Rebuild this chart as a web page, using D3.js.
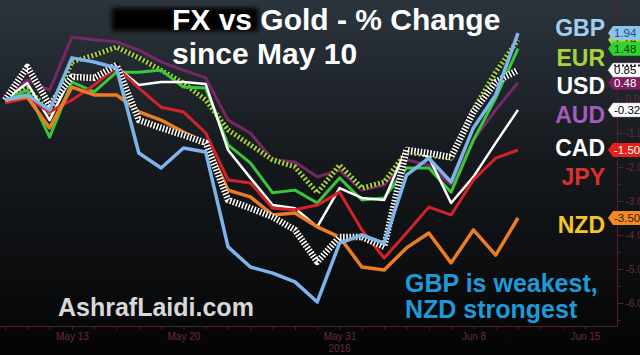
<!DOCTYPE html>
<html>
<head>
<meta charset="utf-8">
<script src="https://cdn.jsdelivr.net/npm/d3@7"></script>
<style>
  body { margin: 0; background: #000; }
  svg { display: block; font-family: 'Liberation Sans', Arial, sans-serif; }
</style>
</head>
<body>
<div class="canvas"></div>
<script>
// trading days on the x axis (data runs to Jun 10, axis to Jun 15)
const days = ['May 10', 'May 11', 'May 12', 'May 13', 'May 16', 'May 17', 'May 18', 'May 19', 'May 20',
  'May 23', 'May 24', 'May 25', 'May 26', 'May 27', 'May 30', 'May 31',
  'Jun 1', 'Jun 2', 'Jun 3', 'Jun 6', 'Jun 7', 'Jun 8', 'Jun 9', 'Jun 10', 'Jun 13', 'Jun 14', 'Jun 15']
const xLabels = ['May 13', 'May 20', 'May 31', 'Jun 8', 'Jun 15']
const yTicks = [-6, -5, -4, -3, -2, -1, 0, 1, 2]

// % change vs gold, one value per trading day
const gbp = [-0.03, 0.12, -0.32, 1.21, 1.09, 0.91, -1.59, -2.03, -1.44, -1.56, -4.35, -4.94, -5.12, -5.38, -5.97, -4.24, -4.00, -4.24, -2.24, -1.74, -2.44, -0.85, 0.12, 1.94]
const eur = [0.03, 0.32, -0.38, 1.09, 1.29, 1.53, 1.21, 0.85, 0.47, -0.03, -0.91, -1.35, -1.79, -2.00, -2.76, -1.94, -2.62, -2.44, -1.56, -1.65, -1.74, -0.32, 0.79, 1.74]
const green = [-0.03, 0.26, -1.12, 0.50, 0.21, 0.79, 0.79, 0.85, 0.35, 0.32, -1.35, -1.88, -2.76, -2.68, -3.06, -2.32, -2.97, -2.91, -2.03, -2.03, -2.74, -1.21, 0.03, 1.48]
const usd = [-0.03, 0.47, -0.62, 0.71, 0.62, 0.94, 0.41, 0.50, 0.50, 0.44, -1.50, -2.32, -3.12, -3.21, -3.76, -2.62, -2.91, -2.97, -1.44, -1.71, -3.06, -2.29, -1.29, -0.32]
const aud = [0.03, 0.56, 0.26, 1.82, 1.74, 1.68, 1.44, 1.09, 0.85, 0.62, -0.62, -1.00, -1.79, -1.85, -2.29, -2.09, -2.68, -2.53, -1.79, -1.94, -2.53, -1.21, -0.32, 0.48]
const cad = [-0.03, 0.94, -0.18, 0.65, 0.62, 1.00, -0.62, -0.85, -1.06, -1.29, -2.97, -3.21, -3.47, -3.85, -4.79, -4.06, -4.06, -4.35, -1.50, -1.59, -1.71, -0.38, 0.50, 0.85]
const jpy = [-0.12, 0.03, -0.38, -0.03, 0.41, 0.94, 0.32, -0.24, -0.38, -1.00, -2.38, -2.47, -3.21, -3.26, -3.12, -2.74, -3.85, -4.68, -3.94, -3.18, -3.41, -2.38, -1.74, -1.50]
const nzd = [-0.03, 0.06, -0.85, 0.35, 0.12, 0.12, -0.38, -0.62, -0.97, -1.29, -2.68, -2.88, -3.41, -3.35, -3.76, -4.06, -4.94, -5.03, -4.38, -3.94, -4.82, -3.85, -4.59, -3.50]

const legendNames = ['GBP', 'EUR', 'USD', 'AUD', 'CAD', 'JPY', 'NZD']
const legendColours = ['#9fd0f0', '#a8d23a', '#ffffff', '#a45cc0', '#ffffff', '#d93030', '#f3c623']

// line styles, drawn in this order
const series = [
  { values: aud, colour: '#762866', width: 3, tag: '#7b1d5e', tagText: '#fff' },
  { values: eur, colour: '#a6d03a', width: 5, dash: '2,2', under: '#10140c', tag: '#a5cf3c', tagText: '#274400' },
  { values: green, colour: '#38c838', width: 3, tag: '#2fd42f', tagText: '#0a3a0a' },
  { values: usd, colour: '#ffffff', width: 2.5, tag: '#ffffff', tagText: '#000' },
  { values: jpy, colour: '#d2232a', width: 3, tag: '#e8201c', tagText: '#fff' },
  { values: nzd, colour: '#ec7d22', width: 3.5, tag: '#f08a24', tagText: '#3a1800' },
  { values: cad, colour: '#ffffff', width: 6.5, dash: '1.6,1.6', under: '#0c0c0c', tag: '#ffffff', tagText: '#000' },
  { values: gbp, colour: '#7db5ea', width: 3.5, tag: '#8ec3ea', tagText: '#1c4a7a' },
]

const dims = { width: 640, height: 355, right: 617.5, bottom: 326.5 }

const svg = d3.select('.canvas')
  .append('svg')
  .attr('width', dims.width)
  .attr('height', dims.height)

const defs = svg.append('defs')
const grad = defs.append('linearGradient')
  .attr('id', 'bg').attr('x1', 0).attr('y1', 0).attr('x2', 0).attr('y2', 1)
grad.append('stop').attr('offset', '0%').attr('stop-color', '#2c343d')
grad.append('stop').attr('offset', '45%').attr('stop-color', '#15191d')
grad.append('stop').attr('offset', '100%').attr('stop-color', '#040404')

defs.append('filter').attr('id', 'blur')
  .attr('x', '-20%').attr('y', '-40%').attr('width', '140%').attr('height', '180%')
  .append('feGaussianBlur').attr('stdDeviation', 2.5)

svg.append('rect')
  .attr('width', dims.width).attr('height', dims.height)
  .attr('fill', 'url(#bg)')

const x = d3.scaleLinear().domain([0, 23]).range([5, 518])
const y = d3.scaleLinear().domain([-6, 2]).range([303, 31])

const axisColour = '#5a1e32'
const labelColour = '#6a2a3e'

// frame lines
svg.append('line')
  .attr('x1', 0).attr('x2', dims.right)
  .attr('y1', dims.bottom).attr('y2', dims.bottom)
  .attr('stroke', axisColour)
svg.append('line')
  .attr('x1', dims.right).attr('x2', dims.right)
  .attr('y1', 0).attr('y2', dims.bottom)
  .attr('stroke', axisColour)

// x axis: a tick every trading day, labels on a few
const xMinor = svg.append('g')
  .attr('transform', `translate(0, ${dims.bottom})`)
  .call(d3.axisBottom(x).tickValues(d3.range(days.length)).tickSize(3).tickFormat(''))
const xMajor = svg.append('g')
  .attr('transform', `translate(0, ${dims.bottom})`)
  .call(d3.axisBottom(x).tickValues(xLabels.map(l => days.indexOf(l))).tickSize(0).tickPadding(6)
    .tickFormat(i => days[i]))

// y axis on the right
const yMinor = svg.append('g')
  .attr('transform', `translate(${dims.right}, 0)`)
  .call(d3.axisRight(y).tickValues(d3.range(-6.5, 2.5, 0.5)).tickSize(3).tickFormat(''))
const yMajor = svg.append('g')
  .attr('transform', `translate(${dims.right}, 0)`)
  .call(d3.axisRight(y).tickValues(yTicks).tickSize(6).tickPadding(2).tickFormat(d => d.toFixed(2)))

;[xMinor, xMajor, yMinor, yMajor].forEach(g => {
  g.select('.domain').remove()
  g.selectAll('line').attr('stroke', axisColour)
  g.selectAll('text').attr('fill', labelColour).attr('font-size', 10)
    .attr('font-family', 'Liberation Sans, Arial, sans-serif')
})

svg.append('text')
  .attr('x', x(days.indexOf('May 31'))).attr('y', 352)
  .attr('text-anchor', 'middle')
  .attr('fill', labelColour).attr('font-size', 10)
  .text('2016')

// lines
const line = d3.line()
  .x((d, i) => x(i))
  .y(d => y(d))

const graph = svg.append('g')

series.forEach(s => {
  if (s.under) {
    graph.append('path')
      .attr('d', line(s.values))
      .attr('fill', 'none')
      .attr('stroke', s.under)
      .attr('stroke-width', s.width - 1.5)
      .attr('stroke-linejoin', 'round')
  }
  graph.append('path')
    .attr('d', line(s.values))
    .attr('fill', 'none')
    .attr('stroke', s.colour)
    .attr('stroke-width', s.width)
    .attr('stroke-dasharray', s.dash || null)
    .attr('stroke-linejoin', 'round')
})

// last value tags on the right axis
const tags = svg.append('g')
series.forEach(s => {
  const v = s.values[s.values.length - 1]
  const ty = y(v)
  tags.append('path')
    .attr('d', `M608,${ty} L613,${ty - 7} L660,${ty - 7} L660,${ty + 7} L613,${ty + 7} Z`)
    .attr('fill', s.tag)
    .attr('stroke', s.tag === '#ffffff' ? '#999' : 'none')
    .attr('stroke-width', 0.5)
  if (s.dash && s.colour === '#ffffff') {
    tags.append('line')
      .attr('x1', 614).attr('x2', 660).attr('y1', ty - 4.5).attr('y2', ty - 4.5)
      .attr('stroke', '#222').attr('stroke-width', 2).attr('stroke-dasharray', '2,2')
  }
  tags.append('text')
    .attr('x', 614).attr('y', ty).attr('dy', '0.36em')
    .attr('font-size', 11.5)
    .attr('fill', s.tagText)
    .text(v.toFixed(2))
})

// currency legend
const legendY = [28, 58, 86, 115, 148, 177, 225]
svg.append('g').selectAll('text')
  .data(legendNames)
  .enter()
  .append('text')
  .attr('x', 605)
  .attr('y', (d, i) => legendY[i])
  .attr('dy', '0.36em')
  .attr('text-anchor', 'end')
  .attr('font-size', 23)
  .attr('font-weight', 'bold')
  .attr('fill', (d, i) => legendColours[i])
  .text(d => d)

// title with blacked-out prefix
svg.append('rect')
  .attr('x', 112).attr('y', 8).attr('width', 146).attr('height', 23)
  .attr('fill', '#000')
  .attr('filter', 'url(#blur)')

svg.append('text')
  .attr('x', 172).attr('y', 30)
  .attr('font-size', 30).attr('font-weight', 'bold')
  .attr('fill', '#fff')
  .text('FX vs Gold - % Change')
svg.append('text')
  .attr('x', 172).attr('y', 64)
  .attr('font-size', 30).attr('font-weight', 'bold')
  .attr('fill', '#fff')
  .text('since May 10')

svg.append('text')
  .attr('x', 58).attr('y', 316)
  .attr('font-size', 25).attr('font-weight', 'bold')
  .attr('fill', '#d8d8d8')
  .text('AshrafLaidi.com')

svg.append('text')
  .attr('x', 405).attr('y', 292)
  .attr('font-size', 25).attr('font-weight', 'bold')
  .attr('fill', '#1f9ad8')
  .text('GBP is weakest,')
svg.append('text')
  .attr('x', 405).attr('y', 318)
  .attr('font-size', 25).attr('font-weight', 'bold')
  .attr('fill', '#1f9ad8')
  .text('NZD strongest')
</script>
</body>
</html>
